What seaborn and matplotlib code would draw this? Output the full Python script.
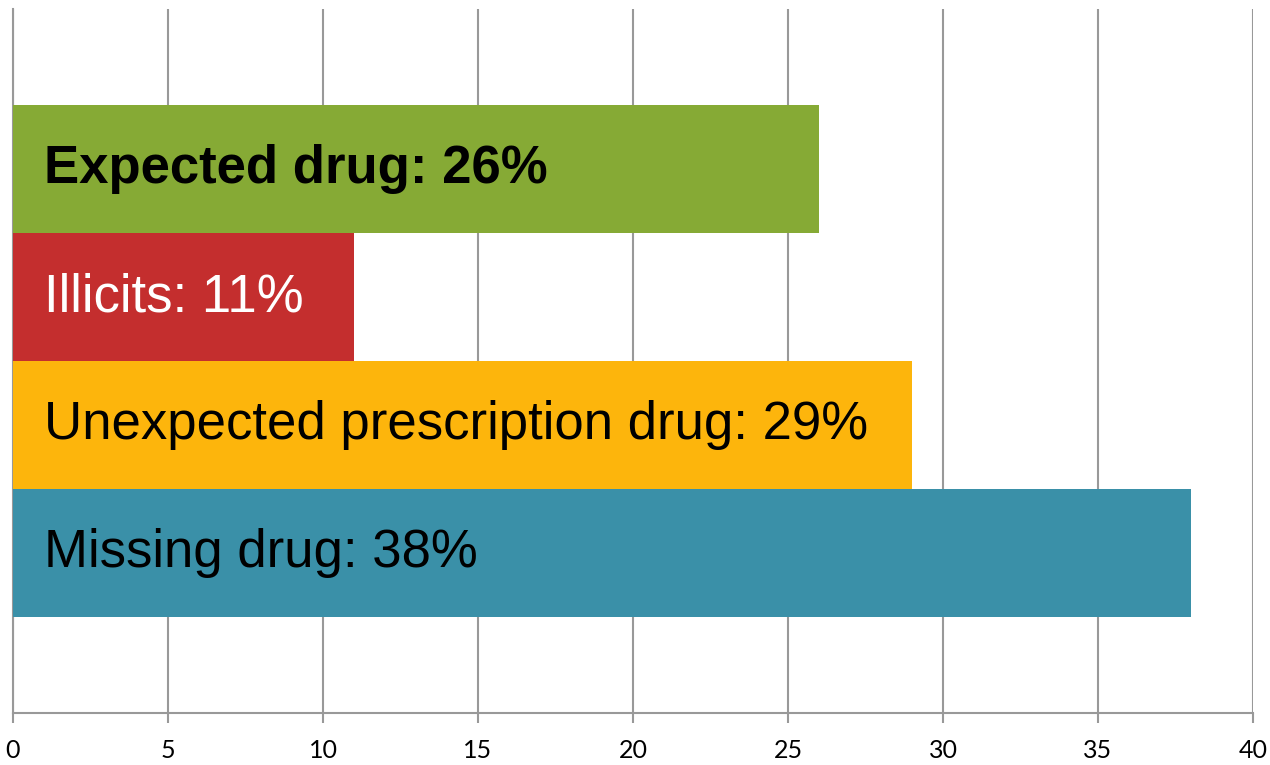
import matplotlib
matplotlib.use("Agg")
import matplotlib.pyplot as plt
import seaborn as sns
import pandas as pd

categories = ["Expected drug", "Illicits", "Unexpected prescription drug", "Missing drug"]
values = [26, 11, 29, 38]
labels = ["Expected drug: 26%", "Illicits: 11%", "Unexpected prescription drug: 29%", "Missing drug: 38%"]
colors = ["#86AA35", "#C42E2E", "#FDB50C", "#3A90A8"]
text_colors = ["black", "white", "black", "black"]
text_weights = ["bold", "normal", "normal", "normal"]
xticks = [0, 5, 10, 15, 20, 25, 30, 35, 40]

df = pd.DataFrame({"category": categories, "value": values})

sns.set_theme(style="white")
plt.rcParams["font.family"] = ["Liberation Sans", "DejaVu Sans"]

fig = plt.figure(figsize=(12.7, 7.65), dpi=100)
ax = fig.add_axes([13/1270, 1 - 713/765, 1240/1270, (713-9)/765])

sns.barplot(data=df, x="value", y="category", hue="category", palette=colors,
            order=categories, hue_order=categories, width=1.0, legend=False,
            ax=ax, saturation=1, zorder=3, linewidth=0)

for i, (lab, tc, tw) in enumerate(zip(labels, text_colors, text_weights)):
    ax.text(1.0, i, lab, color=tc, fontweight=tw, fontsize=38, va="center", ha="left",
            zorder=4)

ax.set_xlim(0, 40)
ax.set_ylim(4.25, -1.25)
ax.set_xticks(xticks)
ax.set_xticklabels([str(t) for t in xticks], fontsize=18, family=["Lato", "DejaVu Sans"])
ax.set_yticks([])
ax.set_xlabel("")
ax.set_ylabel("")
ax.grid(axis="x", color="#999999", linewidth=1.5, zorder=0)
ax.set_axisbelow(True)
for s in ["top", "right"]:
    ax.spines[s].set_visible(False)
for s in ["left", "bottom"]:
    ax.spines[s].set_color("#999999")
    ax.spines[s].set_linewidth(1.5)
ax.tick_params(axis="x", direction="out", length=7, width=1.5, color="#999999",
               pad=12, bottom=True, labelcolor="black")

fig.savefig("out.png", dpi=100)
